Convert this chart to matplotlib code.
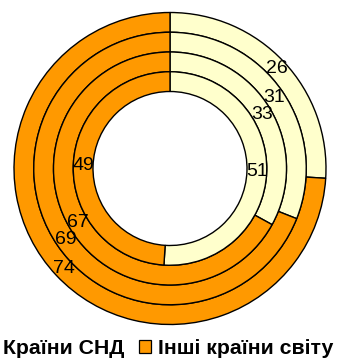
import matplotlib.pyplot as plt
from matplotlib.patches import Patch

# частки по кільцях, від зовнішнього до внутрішнього
sng = [26, 31, 33, 51]
inshi = [74, 69, 67, 49]
series_names = ['Країни СНД', 'Інші країни світу']

col_sng = '#FFFFCC'
col_inshi = '#FF9900'

fig = plt.figure(figsize=(3.42, 3.58), dpi=100)
ax = fig.add_axes([0, 0, 1, 1])

cx, cy = 170, 189.5
r_out = 156
w = 19.75

for i, (a, b) in enumerate(zip(sng, inshi)):
    r = r_out - i * w
    ax.pie([a, b], colors=[col_sng, col_inshi], radius=r, center=(cx, cy),
           startangle=90, counterclock=False,
           wedgeprops=dict(width=w, edgecolor='black', linewidth=1.0),
           autopct=lambda p: f'{p:.0f}', pctdistance=(r - w / 2) / r,
           textprops=dict(family='Liberation Sans', fontsize=14, color='black'))

ax.set_xlim(0, 342)
ax.set_ylim(0, 358)
ax.set_aspect('equal')
ax.axis('off')

handles = [Patch(facecolor=col_sng, edgecolor='black', linewidth=0.9),
           Patch(facecolor=col_inshi, edgecolor='black', linewidth=0.9)]
fig.legend(handles, series_names, loc='lower left', ncol=2,
           bbox_to_anchor=(-16 / 342, 0.0), frameon=False,
           borderpad=0, borderaxespad=0, handlelength=0.55, handleheight=0.55,
           handletextpad=0.35, columnspacing=0.7,
           prop=dict(family='Liberation Sans', weight='bold', size=15.3))

fig.savefig('out.png', dpi=100)
